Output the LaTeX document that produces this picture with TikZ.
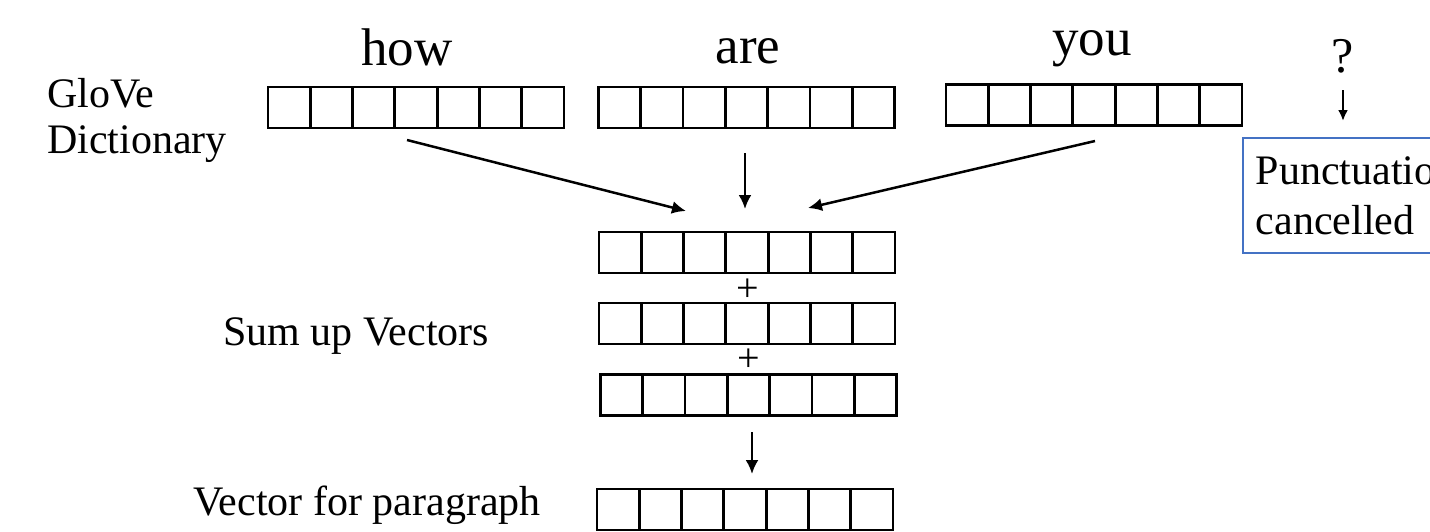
\documentclass[tikz,border=0pt]{standalone}
\usepackage{fontspec}
\setmainfont{Liberation Serif}
\usetikzlibrary{arrows.meta}
\definecolor{boxblue}{RGB}{68,114,196}
\begin{document}
\begin{tikzpicture}[x=1pt,y=-1pt,
  vec/.style={draw, line width=2.8pt, minimum width=296pt, minimum height=41pt, inner sep=0pt,
    path picture={\foreach \i in {1,...,6}{\draw[line width=2.8pt] ([xshift=\i*296pt/7]path picture bounding box.south west) -- ([xshift=\i*296pt/7]path picture bounding box.north west);}}},
  word/.style={font=\fontsize{53}{60}\selectfont, anchor=base, inner sep=0pt},
  lbl/.style={font=\fontsize{42}{48}\selectfont, anchor=base west, inner sep=0pt},
  arr/.style={line width=2.5pt, -{Latex[length=14pt,width=13pt]}},
  plus/.style={font=\fontsize{40}{44}\selectfont, inner sep=0pt}
]
\useasboundingbox (0,0) rectangle (1430,531);
\clip (0,0) rectangle (1430,531);
% words
\node[word] (whow) at (407,65) {how};
\node[word] (ware) at (748,63) {are};
\node[word] (wyou) at (1092,55) {you};
\node[word, font=\fontsize{50}{56}\selectfont] (wq) at (1343,72) {?};
% labels
\node[lbl] (glove) at (47,107) {GloVe};
\node[lbl] (dict) at (47,153) {Dictionary};
\node[lbl] (sumup) at (223,345) {Sum up Vectors};
\node[lbl] (vpar) at (193,515) {Vector for paragraph};
% vectors
\node[vec] (vhow) at (416,107.5) {};
\node[vec] (vare) at (746.5,107.5) {};
\node[vec] (vyou) at (1094,105) {};
\node[vec] (s1) at (747,252.5) {};
\node[plus] (p1) at (748,290) {+};
\node[vec] (s2) at (747,323.5) {};
\node[plus] (p2) at (749,360) {+};
\node[vec] (s3) at (748.5,395) {};
\node[vec] (vfin) at (745,509.5) {};
% punctuation box
\node[draw=boxblue, line width=1.5pt, anchor=north west, minimum height=115pt, text width=200pt,
  inner xsep=13pt, inner ysep=0pt, align=left, font=\fontsize{42}{50}\selectfont] (punc) at (1242,137)
  {\vphantom{Ph}Punctuation\\cancelled};
% arrows
\coordinate (a1s) at (407,140); \coordinate (a1e) at (686,211);
\coordinate (a2s) at (745,153); \coordinate (a2e) at (745,209);
\coordinate (a3s) at (1095,141); \coordinate (a3e) at (808,208);
\coordinate (a4s) at (752,432); \coordinate (a4e) at (752,474);
\coordinate (a5s) at (1343,90); \coordinate (a5e) at (1343,121);
\draw[arr] (a1s) -- (a1e);
\draw[arr] (a2s) -- (a2e);
\draw[arr] (a3s) -- (a3e);
\draw[arr] (a4s) -- (a4e);
\draw[arr, line width=2.2pt, -{Latex[length=11pt,width=10pt]}] (a5s) -- (a5e);
\end{tikzpicture}
\end{document}
